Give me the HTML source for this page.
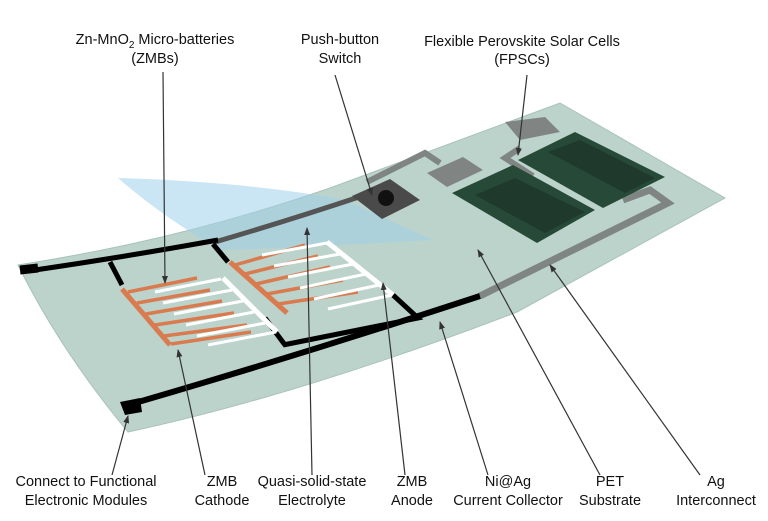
<!DOCTYPE html>
<html><head><style>
body{margin:0;background:#fff;}
svg{display:block;}
text{font-family:"Liberation Sans",sans-serif;font-size:14.5px;fill:#111;text-anchor:middle;}
</style></head><body>
<svg width="768" height="521" viewBox="0 0 768 521" xmlns="http://www.w3.org/2000/svg">
<defs>
<marker id="ah" markerWidth="8" markerHeight="8" refX="7" refY="4" orient="auto" markerUnits="userSpaceOnUse">
<path d="M0,1 L8,4 L0,7 Z" fill="#333"/>
</marker>
</defs>
<!-- substrate -->
<path d="M18,265 Q180,240 330,188 L560,103 L725,198 L517,312 Q300,395 128,432 Q60,350 18,265 Z" fill="#bcd3cb" stroke="#a8c2ba" stroke-width="1"/>
<!-- blue electrolyte sheet -->
<path d="M118,178 Q250,182 345,200 L432,240 Q300,248 220,250 Q160,215 118,178 Z" fill="#9fd0ea" opacity="0.55"/>
<!-- gray interconnects -->
<path d="M367,182 L425,153 L440,163" fill="none" stroke="#7f8582" stroke-width="6"/>
<path d="M427,173 L463,157 L483,170 L447,187 Z" fill="#808583"/>
<path d="M505,122 L545,117 L560,132 L520,140 Z" fill="#808583"/>
<path d="M520,148 L505,158 L533,176" fill="none" stroke="#7f8582" stroke-width="6"/>
<path d="M623,200 L650,190 L668,203 L480,296" fill="none" stroke="#7f8582" stroke-width="7"/>
<path d="M215,242 Q290,220 362,196" fill="none" stroke="#555" stroke-width="5"/>
<!-- solar cells -->
<path d="M452,193 L513,165 L595,210 L537,243 Z" fill="#264a37"/>
<path d="M475,195 L515,178 L585,212 L545,233 Z" fill="#1f3a2d"/>
<path d="M518,160 L575,132 L665,177 L603,208 Z" fill="#264a37"/>
<path d="M548,152 L580,140 L655,178 L625,193 Z" fill="#1f3a2d"/>
<!-- switch -->
<path d="M352,196 L390,179 L420,200 L382,219 Z" fill="#4a4a4a"/>
<circle cx="386" cy="198" r="8" fill="#111"/>
<!-- black collector lines -->
<path d="M20,270 L38,268" stroke="#000" stroke-width="9"/>
<path d="M35,270 Q130,256 218,240" fill="none" stroke="#000" stroke-width="5"/>
<path d="M110,262 L122,285" stroke="#000" stroke-width="5"/>
<path d="M213,244 L228,262" stroke="#000" stroke-width="5"/>
<path d="M393,295 L418,318 L283,345" fill="none" stroke="#000" stroke-width="5"/>
<path d="M265,318 L285,345" stroke="#000" stroke-width="5"/>
<path d="M128,405 Q300,355 480,296" fill="none" stroke="#000" stroke-width="6"/>
<path d="M120,402 L140,398 L142,412 L125,415 Z" fill="#000"/>
<!-- cell 1 combs -->
<g stroke-linecap="butt">
<path d="M122,289 L170,345" stroke="#d97a4f" stroke-width="5"/>
<g stroke="#d97a4f" stroke-width="3.5">
<path d="M128,292 L197,278"/><path d="M137,303 L210,290"/><path d="M146,314 L222,301"/><path d="M155,325 L234,313"/><path d="M164,336 L247,325"/><path d="M171,344 L251,332"/>
</g>
<path d="M223,278 L277,332" stroke="#fff" stroke-width="5"/>
<g stroke="#fff" stroke-width="3" >
<path d="M221,279 L155,292"/><path d="M232,290 L163,303"/><path d="M243,301 L174,314"/><path d="M254,312 L186,325"/><path d="M265,323 L197,336"/><path d="M276,332 L208,345"/>
</g>
<!-- cell 2 combs -->
<path d="M230,262 L287,313" stroke="#d97a4f" stroke-width="5"/>
<g stroke="#d97a4f" stroke-width="3.5">
<path d="M235,265 L305,245"/><path d="M245,274 L318,256"/><path d="M256,284 L330,267"/><path d="M267,294 L343,280"/><path d="M278,304 L358,292"/>
</g>
<path d="M327,242 L393,295" stroke="#fff" stroke-width="5"/>
<g stroke="#fff" stroke-width="3">
<path d="M327,243 L262,255"/><path d="M340,254 L274,266"/><path d="M353,264 L288,277"/><path d="M366,274 L300,288"/><path d="M379,285 L314,299"/><path d="M392,295 L328,309"/>
</g>
</g>
<!-- leader lines -->
<g stroke="#333" stroke-width="1.2" marker-end="url(#ah)">
<line x1="163" y1="72" x2="165" y2="283"/>
<line x1="335" y1="75" x2="372" y2="195"/>
<line x1="527" y1="75" x2="518" y2="155"/>
<line x1="112" y1="475" x2="128" y2="416"/>
<line x1="205" y1="475" x2="178" y2="350"/>
<line x1="312" y1="475" x2="307" y2="228"/>
<line x1="405" y1="475" x2="383" y2="283"/>
<line x1="488" y1="475" x2="440" y2="322"/>
<line x1="600" y1="475" x2="478" y2="250"/>
<line x1="700" y1="475" x2="550" y2="265"/>
</g>
<!-- labels -->
<text x="155" y="44">Zn-MnO<tspan font-size="10" dy="4">2</tspan><tspan dy="-4"> Micro-batteries</tspan></text>
<text x="155" y="63">(ZMBs)</text>
<text x="340" y="44">Push-button</text>
<text x="340" y="63">Switch</text>
<text x="522" y="46">Flexible Perovskite Solar Cells</text>
<text x="522" y="64">(FPSCs)</text>
<text x="86" y="486">Connect to Functional</text>
<text x="86" y="505">Electronic Modules</text>
<text x="222" y="486">ZMB</text>
<text x="222" y="505">Cathode</text>
<text x="312" y="486">Quasi-solid-state</text>
<text x="312" y="505">Electrolyte</text>
<text x="412" y="486">ZMB</text>
<text x="412" y="505">Anode</text>
<text x="508" y="486">Ni@Ag</text>
<text x="508" y="505">Current Collector</text>
<text x="610" y="486">PET</text>
<text x="610" y="505">Substrate</text>
<text x="716" y="486">Ag</text>
<text x="716" y="505">Interconnect</text>
</svg>
</body></html>
